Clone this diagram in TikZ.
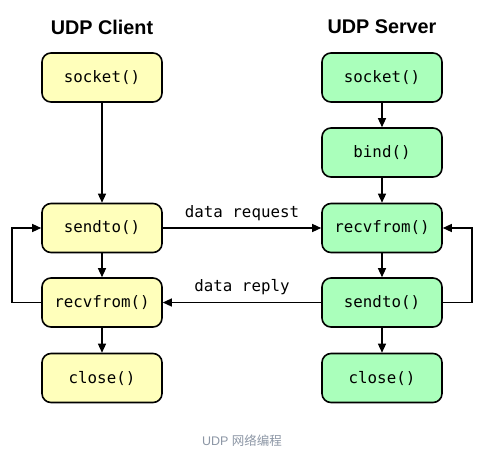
\documentclass[tikz,border=0pt]{standalone}
\usepackage{fontspec}
\setmainfont{Liberation Sans}
\setmonofont{DejaVu Sans Mono}
\newfontfamily\cjkfont{Noto Sans CJK SC}
\usetikzlibrary{arrows.meta}

\definecolor{clientfill}{RGB}{255,255,187}
\definecolor{serverfill}{RGB}{170,255,187}
\definecolor{captiongray}{RGB}{140,150,165}

\tikzset{
  callbox/.style={draw=black, line width=1.6pt, rounded corners=9pt,
    minimum width=120pt, minimum height=49pt, inner sep=0pt,
    font=\fontsize{15.8}{18}\ttfamily},
  clientbox/.style={callbox, fill=clientfill},
  serverbox/.style={callbox, fill=serverfill},
  flow/.style={line width=1.3pt, -{Triangle[length=9pt,width=8pt]}},
  msg/.style={font=\fontsize{15.8}{18}\ttfamily, inner sep=0pt},
  title/.style={font=\fontsize{19.8}{22}\selectfont\bfseries}
}

\begin{document}
\begin{tikzpicture}[x=1pt,y=1pt,yscale=-1]
\useasboundingbox (0,0) rectangle (487,453);

% titles
\node[title] (ctitle) at (102,27) {UDP Client};
\node[title] (stitle) at (382,27) {UDP Server};

% client side
\node[clientbox] (csocket) at (102,77.5) {socket()};
\node[clientbox] (csend) at (102,228) {sendto()};
\node[clientbox] (crecv) at (102,302.5) {recvfrom()};
\node[clientbox] (cclose) at (102,378) {close()};

% server side
\node[serverbox] (ssocket) at (382,77.5) {socket()};
\node[serverbox] (sbind) at (382,152.5) {bind()};
\node[serverbox] (srecv) at (382,228) {recvfrom()};
\node[serverbox] (ssend) at (382,302.5) {sendto()};
\node[serverbox] (sclose) at (382,378) {close()};

% vertical flow
\draw[flow] (csocket) -- (csend);
\draw[flow] (csend) -- (crecv);
\draw[flow] (crecv) -- (cclose);
\draw[flow] (ssocket) -- (sbind);
\draw[flow] (sbind) -- (srecv);
\draw[flow] (srecv) -- (ssend);
\draw[flow] (ssend) -- (sclose);

% messages
\draw[flow] (csend) -- node[msg, above=7pt] {data request} (srecv);
\draw[flow] (ssend) -- node[msg, above=7pt] {data reply} (crecv);

% loops
\draw[flow] (crecv.west) -| (12,265) |- (csend.west);
\draw[flow] (ssend.east) -| (472,265) |- (srecv.east);

% caption
\node[font=\fontsize{12.5}{14}\selectfont, text=captiongray] (caption) at (242,441)
  {UDP {\cjkfont 网络编程}};
\end{tikzpicture}
\end{document}
